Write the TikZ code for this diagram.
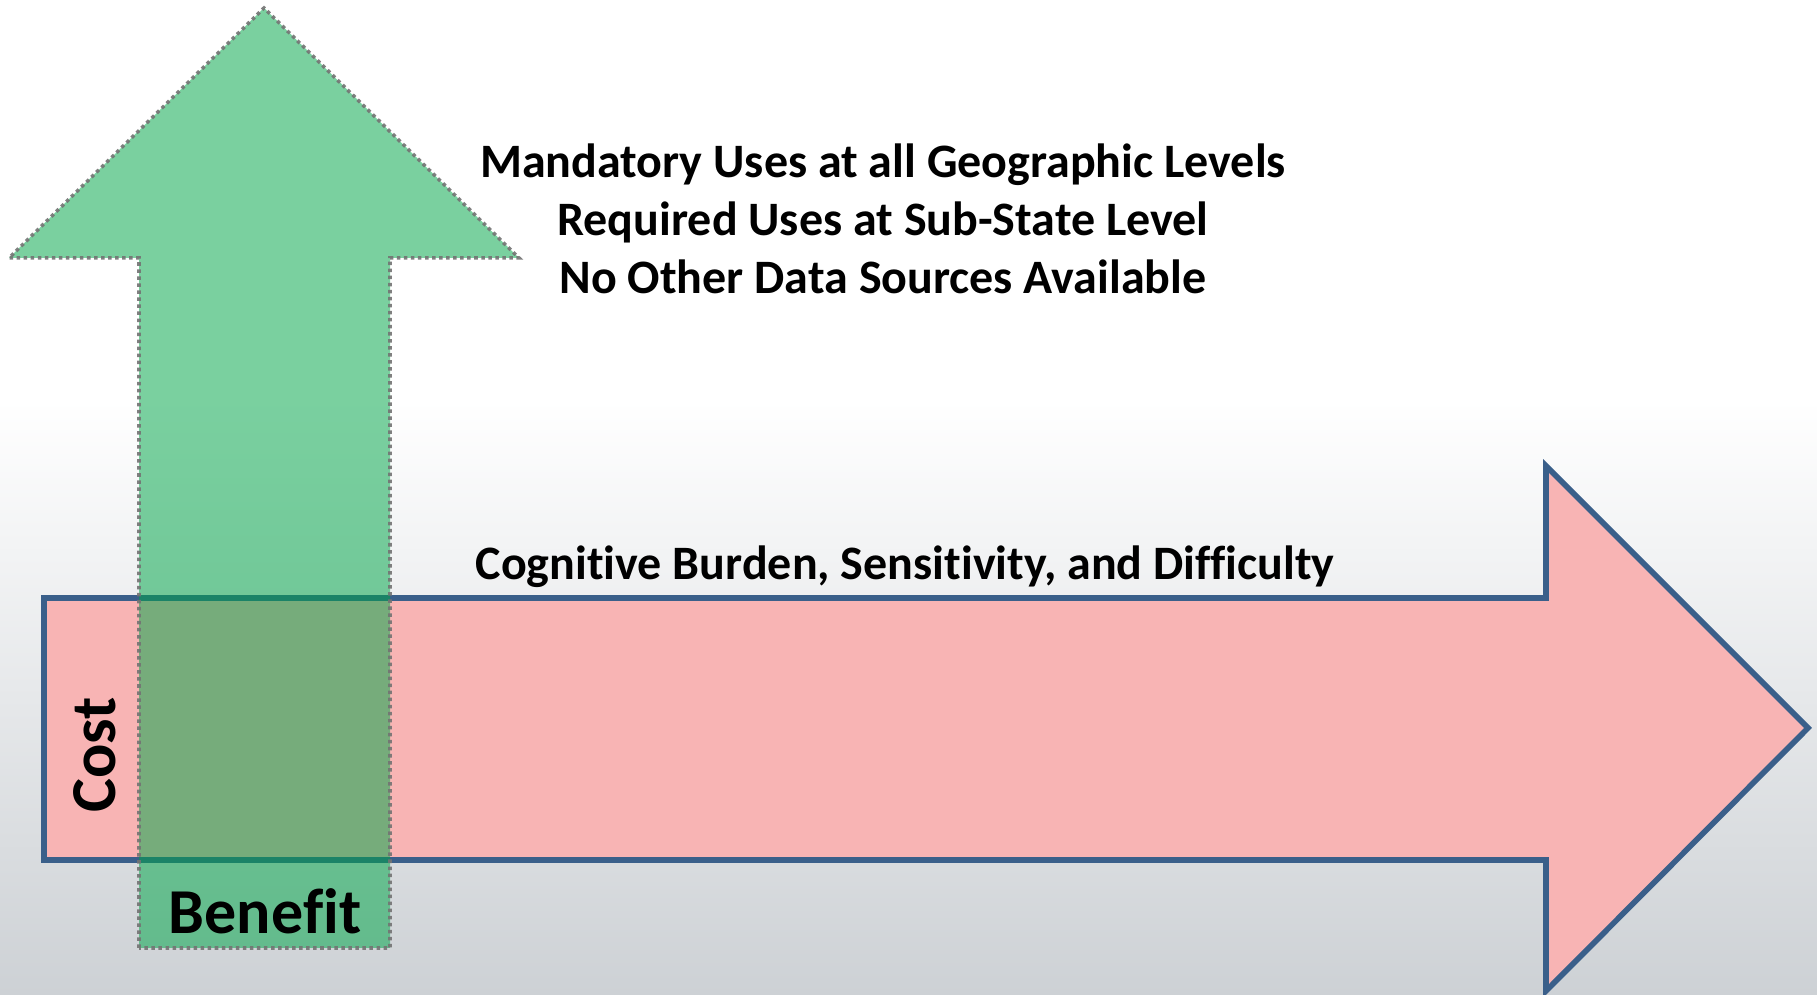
\documentclass[tikz,border=0pt]{standalone}
\usepackage{fontspec}
\setmainfont{Carlito}[Ligatures=NoCommon]
\usepackage{xcolor}
\usetikzlibrary{positioning, calc}

\definecolor{costpink}{RGB}{248,180,180}
\definecolor{costblue}{RGB}{58,95,138}
\definecolor{benefitgreen}{RGB}{0,165,72}
\definecolor{bggray}{RGB}{205,209,213}

\tikzset{
  costarrow/.style={fill=costpink, draw=costblue, line width=1.6pt, line join=miter},
  benefitarrow/.style={fill=benefitgreen, fill opacity=0.52, draw=gray!90!black, draw opacity=0.9,
    line width=1pt, densely dotted},
  axislabel/.style={font=\fontsize{18.2}{21}\selectfont\bfseries, inner sep=0pt},
  usetext/.style={font=\fontsize{13.65}{16.4}\selectfont\bfseries, align=center, inner sep=0pt}
}

\begin{document}
\begin{tikzpicture}[x=0.01cm, y=-0.01cm]
  % background, white fading to grey at the bottom
  \useasboundingbox (0,0) rectangle (1817,995);
  \fill[white] (0,0) rectangle (1817,995);
  \shade[top color=white, bottom color=bggray] (0,400) rectangle (1817,995);

  % cost arrow, pointing right
  \draw[costarrow] (44,598) -- (1546,598) -- (1546,466) -- (1808,728)
    -- (1546,991) -- (1546,860) -- (44,860) -- cycle;

  % benefit arrow, pointing up (see-through)
  \draw[benefitarrow] (139,948) -- (139,258) -- (9,258) -- (264,8)
    -- (519,258) -- (390,258) -- (390,948) -- cycle;

  % labels
  \node[usetext] (uses) at (883,219)
    {Mandatory Uses at all Geographic Levels\\
     Required Uses at Sub-State Level\\
     No Other Data Sources Available};
  \node[usetext] (burden) at (905,567) {Cognitive Burden, Sensitivity, and Difficulty};
  \node[axislabel, rotate=90] (cost) at (95,755) {Cost};
  \node[axislabel] (benefit) at (265,911) {Benefit};
\end{tikzpicture}
\end{document}
